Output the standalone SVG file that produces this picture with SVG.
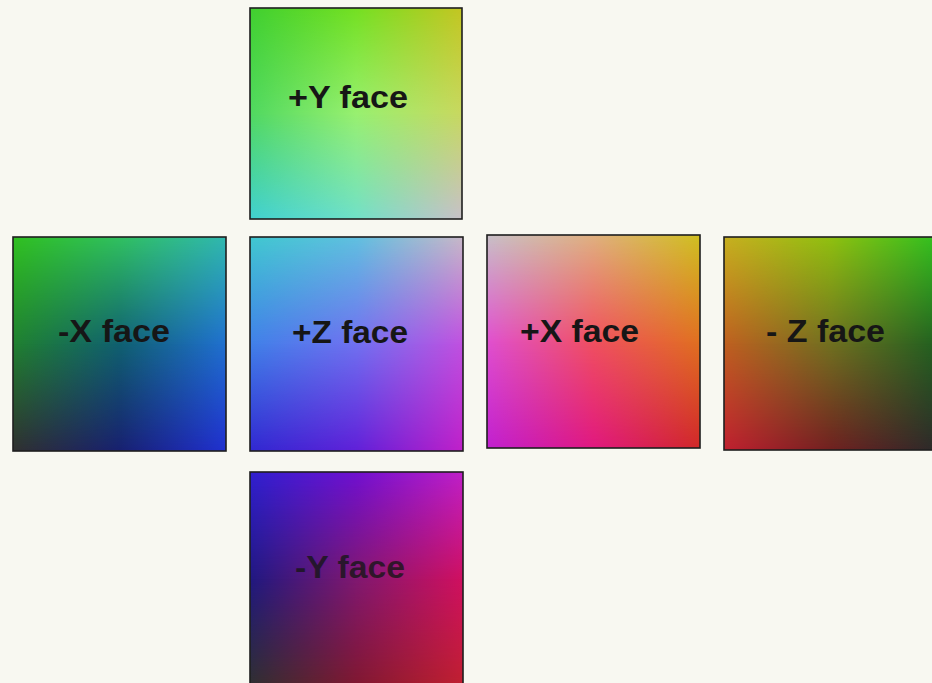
<svg xmlns="http://www.w3.org/2000/svg" width="932" height="683" viewBox="0 0 932 683">
<style>
.frame{fill:none;stroke:#1e1e1e;stroke-width:1.6}
.lbl{font-family:"Liberation Sans",Arial,sans-serif;font-weight:bold;font-size:31px;fill:#161616}
</style>
<defs>
<linearGradient id="vgM" x1="0" y1="0" x2="0" y2="1"><stop offset="0" stop-color="#000"/><stop offset="0.5" stop-color="#fff"/><stop offset="1" stop-color="#fff"/></linearGradient>
<linearGradient id="vgB" x1="0" y1="0" x2="0" y2="1"><stop offset="0" stop-color="#000"/><stop offset="0.5" stop-color="#000"/><stop offset="1" stop-color="#fff"/></linearGradient>
<mask id="mM" maskUnits="objectBoundingBox" maskContentUnits="objectBoundingBox" x="0" y="0" width="1" height="1"><rect x="0" y="0" width="1" height="1" fill="url(#vgM)"/></mask>
<mask id="mB" maskUnits="objectBoundingBox" maskContentUnits="objectBoundingBox" x="0" y="0" width="1" height="1"><rect x="0" y="0" width="1" height="1" fill="url(#vgB)"/></mask>
<!-- +Y -->
<linearGradient id="pyT"><stop offset="0" stop-color="#40d030"/><stop offset="0.5" stop-color="#74e022"/><stop offset="1" stop-color="#c4c622"/></linearGradient>
<linearGradient id="pyM"><stop offset="0" stop-color="#50d860"/><stop offset="0.5" stop-color="#98f070"/><stop offset="1" stop-color="#c8d860"/></linearGradient>
<linearGradient id="pyB"><stop offset="0" stop-color="#40d0d0"/><stop offset="0.5" stop-color="#70e0c8"/><stop offset="1" stop-color="#c8c0c8"/></linearGradient>
<!-- -X -->
<linearGradient id="nxT"><stop offset="0" stop-color="#30c020"/><stop offset="0.5" stop-color="#30c060"/><stop offset="1" stop-color="#30b8b0"/></linearGradient>
<linearGradient id="nxM"><stop offset="0" stop-color="#208030"/><stop offset="0.5" stop-color="#106070"/><stop offset="1" stop-color="#2070d0"/></linearGradient>
<linearGradient id="nxB"><stop offset="0" stop-color="#303030"/><stop offset="0.5" stop-color="#182070"/><stop offset="1" stop-color="#2030d0"/></linearGradient>
<!-- +Z -->
<linearGradient id="pzT"><stop offset="0" stop-color="#40c8d0"/><stop offset="0.5" stop-color="#60c0e0"/><stop offset="1" stop-color="#c8b8c8"/></linearGradient>
<linearGradient id="pzM"><stop offset="0" stop-color="#4080e8"/><stop offset="0.5" stop-color="#7070f0"/><stop offset="1" stop-color="#c050e0"/></linearGradient>
<linearGradient id="pzB"><stop offset="0" stop-color="#3028d0"/><stop offset="0.5" stop-color="#6020d8"/><stop offset="1" stop-color="#c020c8"/></linearGradient>
<!-- +X -->
<linearGradient id="pxT"><stop offset="0" stop-color="#c8c0c8"/><stop offset="0.5" stop-color="#e0b080"/><stop offset="1" stop-color="#d0c020"/></linearGradient>
<linearGradient id="pxM"><stop offset="0" stop-color="#e050d0"/><stop offset="0.5" stop-color="#f05060"/><stop offset="1" stop-color="#e07020"/></linearGradient>
<linearGradient id="pxB"><stop offset="0" stop-color="#c020d0"/><stop offset="0.5" stop-color="#e01880"/><stop offset="1" stop-color="#d02828"/></linearGradient>
<!-- -Z -->
<linearGradient id="nzT"><stop offset="0" stop-color="#c8b020"/><stop offset="0.5" stop-color="#90c010"/><stop offset="1" stop-color="#30c020"/></linearGradient>
<linearGradient id="nzM"><stop offset="0" stop-color="#c06020"/><stop offset="0.5" stop-color="#707020"/><stop offset="1" stop-color="#206020"/></linearGradient>
<linearGradient id="nzB"><stop offset="0" stop-color="#c02030"/><stop offset="0.5" stop-color="#702020"/><stop offset="1" stop-color="#2a2a2a"/></linearGradient>
<!-- -Y -->
<linearGradient id="nyT"><stop offset="0" stop-color="#3020d0"/><stop offset="0.5" stop-color="#7010d0"/><stop offset="1" stop-color="#c020c8"/></linearGradient>
<linearGradient id="nyM"><stop offset="0" stop-color="#201880"/><stop offset="0.5" stop-color="#801870"/><stop offset="1" stop-color="#d01060"/></linearGradient>
<linearGradient id="nyB"><stop offset="0" stop-color="#303030"/><stop offset="0.5" stop-color="#801830"/><stop offset="1" stop-color="#c02030"/></linearGradient>
</defs>
<rect width="932" height="683" fill="#f8f8f1"/>
<g id="face-posY">
<rect x="250" y="8" width="212" height="211" fill="url(#pyT)"/>
<rect x="250" y="8" width="212" height="211" fill="url(#pyM)" mask="url(#mM)"/>
<rect x="250" y="8" width="212" height="211" fill="url(#pyB)" mask="url(#mB)"/>
<rect class="frame" x="250" y="8" width="212" height="211"/>
<text class="lbl" x="288" y="108" textLength="120" lengthAdjust="spacingAndGlyphs">+Y face</text>
</g>
<g id="face-negX">
<rect x="13" y="237" width="213" height="214" fill="url(#nxT)"/>
<rect x="13" y="237" width="213" height="214" fill="url(#nxM)" mask="url(#mM)"/>
<rect x="13" y="237" width="213" height="214" fill="url(#nxB)" mask="url(#mB)"/>
<rect class="frame" x="13" y="237" width="213" height="214"/>
<text class="lbl" x="58" y="342" textLength="112" lengthAdjust="spacingAndGlyphs">-X face</text>
</g>
<g id="face-posZ">
<rect x="250" y="237" width="213" height="214" fill="url(#pzT)"/>
<rect x="250" y="237" width="213" height="214" fill="url(#pzM)" mask="url(#mM)"/>
<rect x="250" y="237" width="213" height="214" fill="url(#pzB)" mask="url(#mB)"/>
<rect class="frame" x="250" y="237" width="213" height="214"/>
<text class="lbl" x="292" y="343" textLength="116" lengthAdjust="spacingAndGlyphs">+Z face</text>
</g>
<g id="face-posX">
<rect x="487" y="235" width="213" height="213" fill="url(#pxT)"/>
<rect x="487" y="235" width="213" height="213" fill="url(#pxM)" mask="url(#mM)"/>
<rect x="487" y="235" width="213" height="213" fill="url(#pxB)" mask="url(#mB)"/>
<rect class="frame" x="487" y="235" width="213" height="213"/>
<text class="lbl" x="520" y="342" textLength="119" lengthAdjust="spacingAndGlyphs">+X face</text>
</g>
<g id="face-negZ">
<rect x="724" y="237" width="214" height="213" fill="url(#nzT)"/>
<rect x="724" y="237" width="214" height="213" fill="url(#nzM)" mask="url(#mM)"/>
<rect x="724" y="237" width="214" height="213" fill="url(#nzB)" mask="url(#mB)"/>
<rect class="frame" x="724" y="237" width="214" height="213"/>
<text class="lbl" x="766" y="342" textLength="119" lengthAdjust="spacingAndGlyphs">- Z face</text>
</g>
<g id="face-negY">
<rect x="250" y="472" width="213" height="214" fill="url(#nyT)"/>
<rect x="250" y="472" width="213" height="214" fill="url(#nyM)" mask="url(#mM)"/>
<rect x="250" y="472" width="213" height="214" fill="url(#nyB)" mask="url(#mB)"/>
<rect class="frame" x="250" y="472" width="213" height="214"/>
<text class="lbl" x="295" y="578" textLength="110" lengthAdjust="spacingAndGlyphs" fill-opacity="0.8">-Y face</text>
</g>
<g id="connectors"/>
</svg>
